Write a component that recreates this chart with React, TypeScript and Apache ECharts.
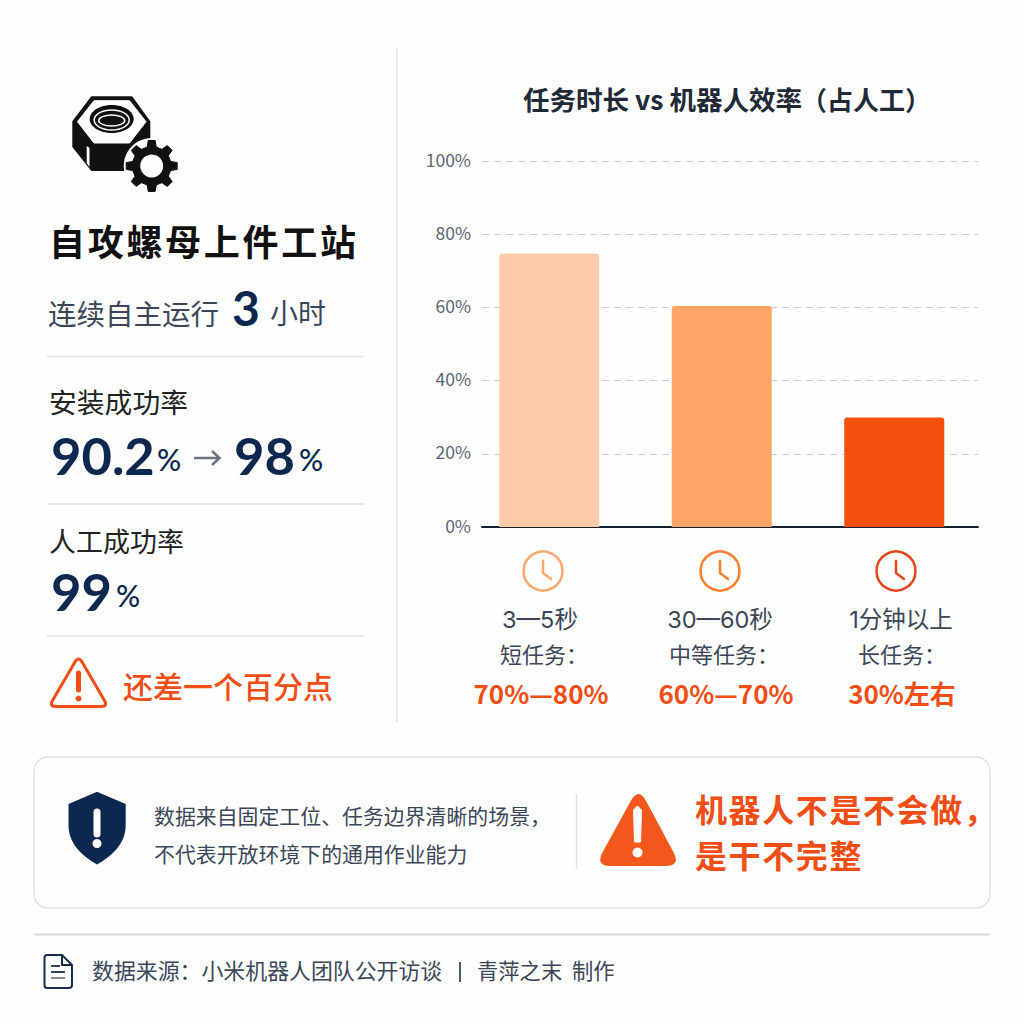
import React, { useEffect, useRef } from 'react'
import * as echarts from 'echarts'

// chart data
const durations = ['3—5秒', '30—60秒', '1分钟以上']
const taskKinds = ['短任务：', '中等任务：', '长任务：']
const efficiencyRanges = ['70%—80%', '60%—70%', '30%左右']
const efficiencyValues = [74.7, 60.4, 29.9]
const yTicks = [0, 20, 40, 60, 80, 100]

const barColors = ['#fdcba8', '#ffa468', '#f2500c']
const clockColors = ['#fda86e', '#fb7d2e', '#e8441c']

const CJK = '"Noto Sans CJK SC", sans-serif'
const NUM = 'Lato, "Noto Sans CJK SC", sans-serif'
const LATIN = 'Inter, "Noto Sans CJK SC", sans-serif'
const NAVY = '#0c2850'
const RED = '#f04e14'
const SLATE = '#3b4759'
const RULE = '#dde2ec'

const roundedTriangle = (pts: number[][], d: number) => {
  let out = ''
  pts.forEach((v, i) => {
    const prev = pts[(i + 2) % 3]
    const next = pts[(i + 1) % 3]
    const toward = (o: number[]) => {
      const len = Math.hypot(o[0] - v[0], o[1] - v[1])
      return [v[0] + ((o[0] - v[0]) / len) * d, v[1] + ((o[1] - v[1]) / len) * d]
    }
    const a = toward(prev)
    const b = toward(next)
    out += `${i === 0 ? 'M' : 'L'}${a[0]},${a[1]} Q${v[0]},${v[1]} ${b[0]},${b[1]} `
  })
  return out + 'Z'
}

const gearPath = (cx: number, cy: number, outer: number, root: number, teeth: number) => {
  let out = ''
  const step = (Math.PI * 2) / teeth
  for (let i = 0; i < teeth; i++) {
    const a = i * step - Math.PI / 2
    const pts = [
      [root, a - step * 0.3],
      [outer, a - step * 0.17],
      [outer, a + step * 0.17],
      [root, a + step * 0.3],
    ]
    pts.forEach(([r, t], j) => {
      out += `${i === 0 && j === 0 ? 'M' : 'L'}${cx + r * Math.cos(t)},${cy + r * Math.sin(t)} `
    })
  }
  return out + 'Z'
}

echarts.graphic.registerShape('warnOutline', echarts.graphic.extendPath(
  roundedTriangle([[78.5, 656], [108, 706.5], [49, 706.5]], 7), {}))
echarts.graphic.registerShape('warnFilled', echarts.graphic.extendPath(
  roundedTriangle([[638.5, 787], [681, 866], [595, 866]], 16), {}))
echarts.graphic.registerShape('gear', echarts.graphic.extendPath(gearPath(151.7, 166, 25.7, 19.5, 8), {}))
echarts.graphic.registerShape('shield', echarts.graphic.extendPath(
  'M97,791.7 L125.7,804 L125.7,825 C125.7,845 110,857 97,864.5 C84,857 68.5,845 68.5,825 L68.5,804 Z', {}))
echarts.graphic.registerShape('doc', echarts.graphic.extendPath(
  'M47,955 L62,955 L72,965 L72,985 Q72,988 69,988 L47,988 Q44.5,988 44.5,985 L44.5,958 Q44.5,955 47,955 Z M62,955 L62,965 L72,965', {}))

// y is the centre seen in the reference, the fonts sit about 2px low
const txt = (text: string, x: number, y: number, fontSize: number, fill: string, fontWeight: number | string = 400, fontFamily = CJK, textAlign = 'left') => ({
  type: 'text',
  style: { text, x, y: y - 2, fontSize, fill, fontWeight, fontFamily, textAlign, textVerticalAlign: 'middle' },
})

// one text per glyph, for the lines that have letter spacing
const spaced = (text: string, x: number, y: number, fontSize: number, step: number, fill: string, fontWeight: number | string = 700) =>
  Array.from(text).map((ch, i) => txt(ch, x + i * step, y, fontSize, fill, fontWeight))

const line = (x1: number, y1: number, x2: number, y2: number, stroke = RULE, lineWidth = 1.5) => ({
  type: 'line',
  shape: { x1, y1, x2, y2 },
  style: { stroke, lineWidth },
})

const clock = (cx: number, cy: number, stroke: string) => ({
  type: 'group',
  children: [
    { type: 'circle', shape: { cx, cy, r: 19.5 }, style: { fill: 'none', stroke, lineWidth: 2.5 } },
    { type: 'polyline', shape: { points: [[cx, cy - 10], [cx, cy + 2], [cx + 8, cy + 8]] }, style: { fill: 'none', stroke, lineWidth: 2.5, lineCap: 'round', lineJoin: 'round' } },
  ],
})

const clockXs = [543, 720, 896]
const durationXs = [540, 720, 901]
const kindXs = [544, 724, 902]
const rangeXs = [541, 726, 902]

const App = () => {
  const chartRef = useRef<HTMLDivElement>(null)

  useEffect(() => {
    if (!chartRef.current) return
    const chart = echarts.init(chartRef.current, undefined, { renderer: 'svg' })

    chart.setOption({
      animation: false,
      backgroundColor: '#fefefe',
      // grid 0 holds the bars, grid 1 the shorter axis and the dashed rules
      grid: [
        { left: 463, width: 517.5, top: 161, height: 366 },
        { left: 482, width: 496, top: 161, height: 366 },
      ],
      xAxis: [
        { gridIndex: 0, type: 'category', data: durations, show: false },
        {
          gridIndex: 1,
          type: 'category',
          data: durations,
          axisLine: { show: true, lineStyle: { color: '#16202e', width: 2 } },
          axisTick: { show: false },
          axisLabel: { show: false },
        },
      ],
      yAxis: [
        { gridIndex: 0, type: 'value', min: 0, max: 100, interval: 20, show: false },
        {
          gridIndex: 1,
          type: 'value',
          min: yTicks[0],
          max: yTicks[yTicks.length - 1],
          interval: 20,
          axisLine: { show: false },
          axisTick: { show: false },
          axisLabel: { formatter: '{value}%', fontSize: 17.5, color: '#5a6473', margin: 11, fontFamily: CJK, verticalAlign: 'bottom', lineHeight: 4 },
          splitLine: { lineStyle: { color: '#c9ced8', type: [7, 5], width: 1.2 } },
        },
      ],
      series: [
        {
          type: 'bar',
          xAxisIndex: 0,
          yAxisIndex: 0,
          barWidth: 100,
          data: efficiencyValues.map((value, i) => ({
            value,
            itemStyle: { color: barColors[i], borderRadius: [3, 3, 0, 0] },
          })),
        },
      ],
      graphic: [
        line(397, 47, 397, 722),
        line(47, 356.5, 364, 356.5),
        line(47, 504, 364, 504),
        line(47, 636, 364, 636),

        // nut + gear
        { type: 'polygon', shape: { points: [[73.3, 121.7], [91.7, 97.3], [131.7, 97.3], [149.3, 121.7], [149.3, 146.7], [126.7, 170], [91.7, 170], [73.3, 146.7]] }, style: { fill: '#111', stroke: '#111', lineWidth: 2, lineJoin: 'round' } },
        { type: 'polygon', shape: { points: [[77.5, 121.7], [94, 100.7], [129.5, 100.7], [146, 121.7], [129.5, 143], [94, 143]] }, style: { fill: '#fff', stroke: '#fff', lineWidth: 1, lineJoin: 'round' } },
        { type: 'polygon', shape: { points: [[86.7, 146], [89.5, 148], [89.5, 167], [86.7, 163]] }, style: { fill: '#fff' } },
        { type: 'ellipse', shape: { cx: 111.7, cy: 119, rx: 22, ry: 14 }, style: { fill: '#111' } },
        { type: 'ellipse', shape: { cx: 111.7, cy: 120, rx: 17.5, ry: 10 }, style: { fill: 'none', stroke: '#fff', lineWidth: 1.5 } },
        { type: 'ellipse', shape: { cx: 111.7, cy: 120.5, rx: 13, ry: 5.5 }, style: { fill: 'none', stroke: '#fff', lineWidth: 1.5 } },
        { type: 'circle', shape: { cx: 151.7, cy: 166, r: 28 }, style: { fill: '#fefefe' } },
        { type: 'gear', style: { fill: '#111', stroke: '#111', lineWidth: 1, lineJoin: 'round' } },
        { type: 'circle', shape: { cx: 151.7, cy: 166, r: 11.5 }, style: { fill: '#fefefe' } },

        ...spaced('自攻螺母上件工站', 49, 242, 36, 38.7, '#111'),
        txt('连续自主运行', 48, 314, 28.5, SLATE),
        txt('3', 232, 309, 48, NAVY, 700, NUM),
        txt('小时', 270, 314, 28, SLATE),

        txt('安装成功率', 49, 403, 27.8, '#222'),
        txt('90.2', 51, 456, 52.5, NAVY, 700, NUM),
        txt('%', 157, 461, 30, NAVY, 500, NUM),
        line(194, 458, 219, 458, '#6b7280', 2.5),
        { type: 'polyline', shape: { points: [[212, 451], [219.5, 458], [212, 465]] }, style: { fill: 'none', stroke: '#6b7280', lineWidth: 2.5 } },
        txt('98', 234, 456, 52.5, NAVY, 700, NUM),
        txt('%', 299, 461, 30, NAVY, 500, NUM),

        txt('人工成功率', 49, 542, 27, '#222'),
        txt('99', 51, 592, 52.5, NAVY, 700, NUM),
        txt('%', 116, 597, 30, NAVY, 500, NUM),

        { type: 'warnOutline', style: { fill: 'none', stroke: RED, lineWidth: 3 } },
        { type: 'line', shape: { x1: 78.5, y1: 673, x2: 78.5, y2: 690 }, style: { stroke: RED, lineWidth: 5, lineCap: 'round' } },
        { type: 'circle', shape: { cx: 78.5, cy: 698.5, r: 3 }, style: { fill: RED } },
        txt('还差一个百分点', 123, 687, 30, RED, 500),

        txt('任务时长 vs 机器人效率', 523, 100, 26.5, '#1f2937', 700),
        txt('（占人工）', 801, 100, 26, '#1f2937', 700),

        ...clockXs.map((x, i) => clock(x, 571, clockColors[i])),
        ...durations.map((d, i) => txt(d, durationXs[i], 621, 23.5, SLATE, 400, LATIN, 'center')),
        ...taskKinds.map((d, i) => txt(d, kindXs[i], 655, 22, SLATE, 400, CJK, 'center')),
        ...efficiencyRanges.map((d, i) => txt(d, rangeXs[i], 694, 26, RED, 700, CJK, 'center')),

        // note card
        { type: 'rect', shape: { x: 34, y: 757, width: 956, height: 151, r: 14 }, style: { fill: '#fefefe', stroke: RULE, lineWidth: 1.5 } },
        { type: 'shield', style: { fill: NAVY } },
        { type: 'line', shape: { x1: 97, y1: 812, x2: 97, y2: 834 }, style: { stroke: '#fff', lineWidth: 7, lineCap: 'round' } },
        { type: 'circle', shape: { cx: 97, cy: 843.5, r: 4.5 }, style: { fill: '#fff' } },
        txt('数据来自固定工位、任务边界清晰的场景，', 154, 817, 20.9, SLATE),
        txt('不代表开放环境下的通用作业能力', 154, 855, 20.9, SLATE),
        line(576.5, 794, 576.5, 869),
        { type: 'warnFilled', style: { fill: '#f2581b' } },
        { type: 'polygon', shape: { points: [[633.5, 810], [637.5, 806], [641.5, 810], [640.5, 842], [634.5, 842]] }, style: { fill: '#fff', stroke: '#fff', lineWidth: 1, lineJoin: 'round' } },
        { type: 'circle', shape: { cx: 637.5, cy: 852.5, r: 5 }, style: { fill: '#fff' } },
        ...spaced('机器人不是不会做，', 695, 810, 32, 33.6, RED),
        ...spaced('是干不完整', 695, 856, 32, 33.6, RED),

        // footer
        line(34, 934.5, 990, 934.5, '#d6dae2', 2),
        { type: 'doc', style: { fill: 'none', stroke: '#1a2b4a', lineWidth: 2, lineJoin: 'round' } },
        line(51, 966, 60, 966, '#1a2b4a', 1.8),
        line(51, 972, 65, 972, '#1a2b4a', 1.8),
        line(51, 978, 65, 978, '#7b8494', 1.8),
        txt('数据来源：小米机器人团队公开访谈', 92, 971, 21.9, SLATE),
        line(460, 962, 460, 982, SLATE, 1.8),
        txt('青萍之末', 477, 971, 21.3, SLATE),
        txt('制作', 572, 971, 21.3, SLATE),
      ],
    })

    return () => {
      chart.dispose()
    }
  }, [])

  return <div ref={chartRef} style={{ position: 'absolute', left: 0, top: 0, width: 1024, height: 1024 }} />
}

export default App
